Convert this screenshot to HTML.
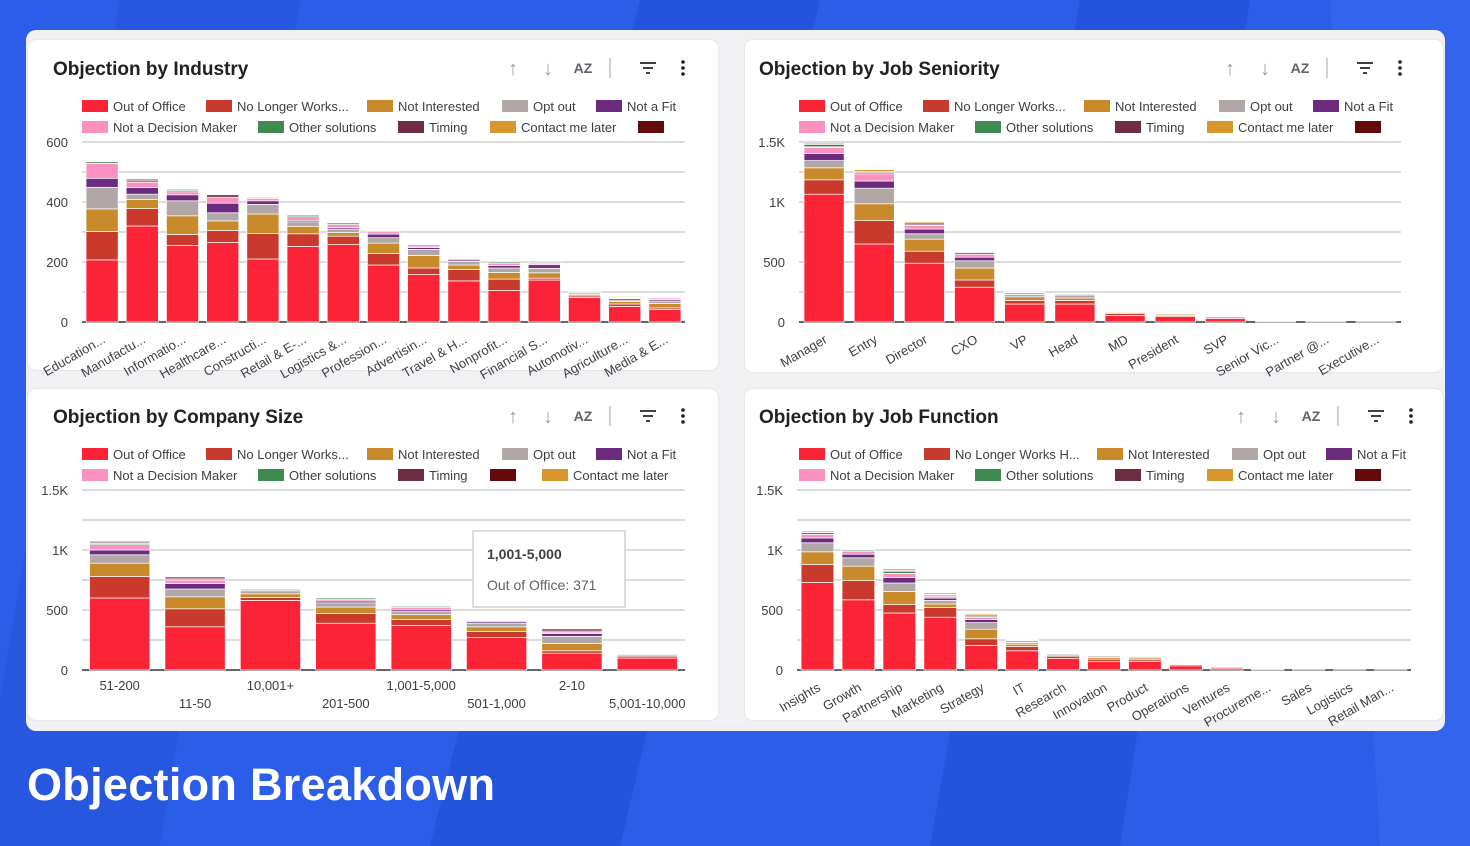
<!DOCTYPE html>
<html><head><meta charset="utf-8">
<style>
*{margin:0;padding:0;box-sizing:border-box}
body{width:1470px;height:846px;overflow:hidden;background:#2b5de8;font-family:"Liberation Sans",sans-serif;position:relative}
.abs{position:absolute}
.container{left:26px;top:30px;width:1419px;height:701px;background:#f1f1f3;border-radius:10px}
.card{background:#fff;border-radius:8px;box-shadow:0 0 2px rgba(0,0,0,.12)}
.title{font-size:19px;font-weight:bold;color:#202124;white-space:nowrap}
.page-title{left:27px;top:759px;font-size:45px;font-weight:bold;color:#fff;letter-spacing:0.3px}
</style></head>
<body>
<svg class="abs" style="left:0;top:0" width="1470" height="846">
<path d="M120 0 L300 0 L160 846 L0 846 L0 700 Z" fill="#2452d8" opacity=".6"/>
<path d="M640 0 L820 0 L620 846 L430 846 Z" fill="#1f4ccf" opacity=".55"/>
<path d="M1080 0 L1250 0 L1120 846 L930 846 Z" fill="#1f4ccf" opacity=".55"/>
<path d="M1330 0 L1470 0 L1470 846 L1380 846 Z" fill="#3a6cf0" opacity=".5"/>
</svg>
<div class="abs container"></div>
<div class="abs card" style="left:28px;top:40px;width:690px;height:330px"></div>
<div class="abs card" style="left:745px;top:40px;width:698px;height:332px"></div>
<div class="abs card" style="left:28px;top:389px;width:690px;height:331px"></div>
<div class="abs card" style="left:745px;top:389px;width:698px;height:331px"></div>
<div class="abs title" style="left:53px;top:59px">Objection by Industry</div>
<div class="abs title" style="left:759px;top:59px">Objection by Job Seniority</div>
<div class="abs title" style="left:53px;top:407px">Objection by Company Size</div>
<div class="abs title" style="left:759px;top:407px">Objection by Job Function</div>
<div class="abs page-title">Objection Breakdown</div>
<svg id="charts" class="abs" style="left:0;top:0" width="1470" height="846" font-family="Liberation Sans, sans-serif"></svg>
<script>
const seriesNames=['Out of Office','No Longer Works...','Not Interested','Opt out','Not a Fit','Not a Decision Maker','Other solutions','Timing','Contact me later'];
const seriesColors=['#fb2436','#c9392c','#c98a2c','#b2a7a7','#6b2c80','#fa91c0','#3e8a50','#6d2f40','#d9962f'];

const industryCats=['Education...','Manufactu...','Informatio...','Healthcare...','Constructi...','Retail & E-...','Logistics &...','Profession...','Advertisin...','Travel & H...','Nonprofit...','Financial S...','Automotiv...','Agriculture...','Media & E...'];
const industryValues=[
 [207,320,255,265,210,252,258,190,158,137,105,140,82,52,42],
 [95,58,37,40,85,42,28,38,22,38,38,6,5,8,5],
 [75,30,62,32,65,25,12,35,42,15,22,18,5,8,15],
 [72,18,50,27,32,15,12,18,20,12,15,15,5,5,8],
 [30,22,20,32,12,5,5,12,6,5,8,12,3,5,5],
 [50,18,10,20,8,12,10,8,5,5,8,5,3,2,5],
 [5,5,5,0,3,5,5,3,4,2,4,3,2,2,2],
 [0,5,3,8,0,0,0,0,0,0,0,0,0,0,0],
 [0,0,0,0,0,0,0,0,0,0,0,0,0,3,0]];
const industryTicks=[0,200,400,600];

const seniorityCats=['Manager','Entry','Director','CXO','VP','Head','MD','President','SVP','Senior Vic...','Partner @...','Executive...'];
const seniorityValues=[
 [1065,650,490,290,150,150,55,45,30,3,2,1],
 [120,195,100,60,30,30,15,10,10,1,1,1],
 [100,140,100,100,30,20,10,10,5,0,0,0],
 [60,130,45,60,20,20,5,5,3,0,0,0],
 [60,60,40,30,10,10,3,3,2,0,0,0],
 [50,60,30,25,5,5,2,2,0,0,0,0],
 [10,10,5,15,3,3,2,0,0,0,0,0],
 [15,10,15,5,2,2,0,0,0,0,0,0],
 [10,15,10,5,0,0,0,0,0,0,0,0]];
const seniorityTicks=[0,500,1000,1500];

const sizeCats=['51-200','11-50','10,001+','201-500','1,001-5,000','501-1,000','2-10','5,001-10,000'];
const sizeValues=[
 [600,360,580,390,371,270,140,100],
 [180,150,25,80,50,50,20,15],
 [110,100,30,55,40,40,60,10],
 [70,65,25,35,30,30,60,8],
 [40,45,8,15,15,12,25,5],
 [45,30,10,15,15,10,10,4],
 [10,10,5,10,10,5,10,0],
 [10,15,0,0,2,0,17,0],
 [10,0,0,0,0,0,0,0]];
const sizeTicks=[0,500,1000,1500];

const functionCats=['Insights','Growth','Partnership','Marketing','Strategy','IT','Research','Innovation','Product','Operations','Ventures','Procureme...','Sales','Logistics','Retail Man...'];
const functionValues=[
 [730,585,475,440,205,160,95,70,70,35,15,2,2,1,1],
 [150,160,70,80,55,35,20,20,15,10,8,1,0,0,0],
 [105,120,110,30,80,20,10,15,15,5,6,0,0,0,0],
 [75,70,70,30,55,15,10,12,10,5,6,0,0,0,0],
 [40,30,45,20,25,10,5,5,5,3,5,0,0,0,0],
 [30,25,35,15,20,5,5,3,5,2,3,0,0,0,0],
 [15,10,15,10,10,5,3,3,3,0,0,0,0,0,0],
 [5,5,10,5,10,5,0,0,0,0,0,0,0,0,0],
 [10,0,12,12,10,0,0,0,0,0,0,0,0,0,0]];
const functionTicks=[0,500,1000,1500];

const NS='http://www.w3.org/2000/svg';
const svg=document.getElementById('charts');
function mk(tag,attrs,parent){const e=document.createElementNS(NS,tag);for(const k in attrs)e.setAttribute(k,attrs[k]);(parent||svg).appendChild(e);return e;}
function fmt(v){return v>=1000?(v/1000)+'K':String(v);}

function drawHeader(g,xs,y){
 const up=mk('text',{x:xs[0],y:y+7,'font-size':20,fill:'#9aa0a6','text-anchor':'middle'},g);up.textContent='↑';
 
 
 const dn=mk('text',{x:xs[1],y:y+7,'font-size':20,fill:'#9aa0a6','text-anchor':'middle'},g);dn.textContent='↓';
 
 
 const az=mk('text',{x:xs[2],y:y+5,'font-size':14,'font-weight':'bold',fill:'#5f6368','text-anchor':'middle'},g);az.textContent='AZ';
 
 
 const sep=mk('line',{x1:xs[3],x2:xs[3],y1:y-10,y2:y+10,stroke:'#bdc1c6','stroke-width':1.5},g);
 
 
 const fg=mk('g',{},g);
 
 
 mk('rect',{x:xs[4]-8,y:y-6,width:16,height:2,fill:'#3c4043'},fg);
 mk('rect',{x:xs[4]-5,y:y-1,width:10,height:2,fill:'#3c4043'},fg);
 mk('rect',{x:xs[4]-2,y:y+4,width:4,height:2,fill:'#3c4043'},fg);
 const mg=mk('g',{},g);
 
 
 [-6,0,6].forEach(d=>mk('circle',{cx:xs[5],cy:y+d,r:1.8,fill:'#202124'},mg));
}

function drawLegend(g,items,y){
 items.forEach(it=>{
  const lg=mk('g',{},g);
  
  
  mk('rect',{x:it[0],y:y-6,width:26,height:12,fill:it[2]},lg);
  if(it[1]){const t=mk('text',{x:it[0]+31,y:y+5,'font-size':13,fill:'#3c4043'},lg);t.textContent=it[1];}
 });
}

function drawChart(cfg,cats,values,ticks){
 const g=mk('g',{});
 
 
 const max=ticks[ticks.length-1];
 const yS=v=>cfg.yb-(v/max)*(cfg.yb-cfg.yt);
 const band=(cfg.x1-cfg.x0)/cats.length;
 const xS=i=>cfg.x0+band*i+band/2;
 const step=(ticks[1]-ticks[0])/2;
 for(let v=0;v<=max+0.001;v+=step){
  const gl=mk('line',{x1:cfg.x0,x2:cfg.x1,y1:yS(v),y2:yS(v),stroke:v===0?'#333':'#c8c8c8','stroke-width':v===0?1.5:1.3},g);
  
  
 }
 ticks.forEach(v=>{
  const t=mk('text',{x:cfg.x0-14,y:yS(v)+5,'font-size':13,fill:'#3c4043','text-anchor':'end'},g);
  t.textContent=fmt(v);
  
  
 });
 const bw=band*cfg.bw;
 cats.forEach((c,i)=>{
  let acc=0;
  for(let s=0;s<values.length;s++){
   const v=values[s][i];if(!v)continue;
   const r=mk('rect',{x:xS(i)-bw/2,y:yS(acc+v),width:bw,height:yS(acc)-yS(acc+v),fill:seriesColors[s],stroke:'#fff','stroke-width':0.7},g);
   
   
   acc+=v;
  }
  let t;
  if(cfg.rot){
   t=mk('text',{x:xS(i)+4,y:cfg.yb+20,'font-size':13,fill:'#3c4043','text-anchor':'end',transform:`rotate(-30 ${xS(i)+4} ${cfg.yb+20})`},g);
  }else{
   t=mk('text',{x:xS(i),y:cfg.yb+20+(i%2)*18,'font-size':13,fill:'#3c4043','text-anchor':'middle'},g);
  }
  t.textContent=c;
  
  
 });
 return g;
}

const C=seriesColors, D='#630b0b';
let g1=drawChart({name:'industry-chart',x0:82,x1:685,yt:142,yb:322,bw:0.8,rot:true},industryCats,industryValues,industryTicks);
drawHeader(g1,[513,548,583,610,648,683],68);
drawLegend(g1,[[82,'Out of Office',C[0]],[206,'No Longer Works...',C[1]],[367,'Not Interested',C[2]],[502,'Opt out',C[3]],[596,'Not a Fit',C[4]]],106);
drawLegend(g1,[[82,'Not a Decision Maker',C[5]],[258,'Other solutions',C[6]],[398,'Timing',C[7]],[490,'Contact me later',C[8]],[638,'',D]],127);
let g2=drawChart({name:'seniority-chart',x0:799,x1:1401,yt:142,yb:322,bw:0.8,rot:true},seniorityCats,seniorityValues,seniorityTicks);
drawHeader(g2,[1230,1265,1300,1327,1365,1400],68);
drawLegend(g2,[[799,'Out of Office',C[0]],[923,'No Longer Works...',C[1]],[1084,'Not Interested',C[2]],[1219,'Opt out',C[3]],[1313,'Not a Fit',C[4]]],106);
drawLegend(g2,[[799,'Not a Decision Maker',C[5]],[975,'Other solutions',C[6]],[1115,'Timing',C[7]],[1207,'Contact me later',C[8]],[1355,'',D]],127);
let g3=drawChart({name:'company-size-chart',x0:82,x1:685,yt:490,yb:670,bw:0.8,rot:false},sizeCats,sizeValues,sizeTicks);
drawHeader(g3,[513,548,583,610,648,683],416);
drawLegend(g3,[[82,'Out of Office',C[0]],[206,'No Longer Works...',C[1]],[367,'Not Interested',C[2]],[502,'Opt out',C[3]],[596,'Not a Fit',C[4]]],454);
drawLegend(g3,[[82,'Not a Decision Maker',C[5]],[258,'Other solutions',C[6]],[398,'Timing',C[7]],[490,'',D],[542,'Contact me later',C[8]]],475);
let g4=drawChart({name:'job-function-chart',x0:797,x1:1411,yt:490,yb:670,bw:0.8,rot:true},functionCats,functionValues,functionTicks);
drawHeader(g4,[1241,1276,1311,1338,1376,1411],416);
drawLegend(g4,[[799,'Out of Office',C[0]],[924,'No Longer Works H...',C[1]],[1097,'Not Interested',C[2]],[1232,'Opt out',C[3]],[1326,'Not a Fit',C[4]]],454);
drawLegend(g4,[[799,'Not a Decision Maker',C[5]],[975,'Other solutions',C[6]],[1115,'Timing',C[7]],[1207,'Contact me later',C[8]],[1355,'',D]],475);
const tip=mk('g',{});


mk('rect',{x:473,y:531,width:152,height:76,fill:'#fff',stroke:'#d0d0d0','stroke-width':1.5},tip);
const t1=mk('text',{x:487,y:559,'font-size':14,'font-weight':'bold',fill:'#3c4043'},tip);t1.textContent=sizeCats[4];
const t2=mk('text',{x:487,y:590,'font-size':14,fill:'#5f6368'},tip);t2.textContent='Out of Office: '+sizeValues[0][4];
</script>
</body></html>
